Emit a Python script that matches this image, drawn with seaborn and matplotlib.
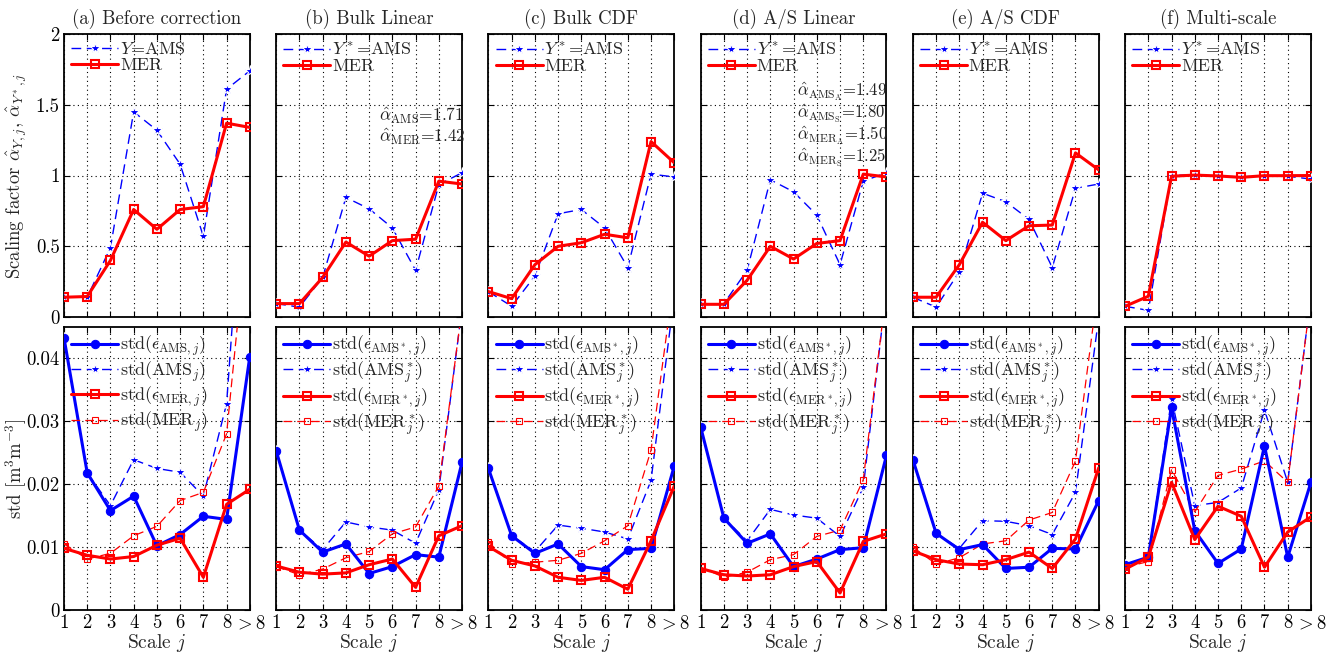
import numpy as np
import pandas as pd
import seaborn as sns
import matplotlib
matplotlib.use("Agg")
import matplotlib.pyplot as plt

# ---- data ----
scales = [1, 2, 3, 4, 5, 6, 7, 8, 9]
scale_labels = ['1', '2', '3', '4', '5', '6', '7', '8', r'$>8$']
panel_titles = ['(a) Before correction', '(b) Bulk Linear', '(c) Bulk CDF',
                '(d) A/S Linear', '(e) A/S CDF', '(f) Multi-scale']

# scaling factors (top row), one list per panel
alpha_ams = [
    [0.14, 0.14, 0.49, 1.45, 1.32, 1.08, 0.57, 1.61, 1.74],
    [0.095, 0.07, 0.28, 0.845, 0.765, 0.63, 0.33, 0.935, 1.02],
    [0.18, 0.076, 0.29, 0.73, 0.76, 0.63, 0.35, 1.01, 0.99],
    [0.09, 0.095, 0.33, 0.97, 0.885, 0.72, 0.37, 0.96, 1.02],
    [0.14, 0.07, 0.32, 0.875, 0.815, 0.69, 0.35, 0.91, 0.94],
    [0.076, 0.047, 1.0, 1.005, 0.995, 0.99, 1.0, 0.995, 0.975],
]
alpha_mer = [
    [0.14, 0.145, 0.40, 0.76, 0.62, 0.76, 0.78, 1.37, 1.34],
    [0.095, 0.095, 0.28, 0.53, 0.43, 0.54, 0.55, 0.96, 0.94],
    [0.18, 0.13, 0.37, 0.50, 0.525, 0.585, 0.56, 1.24, 1.09],
    [0.09, 0.09, 0.26, 0.50, 0.41, 0.52, 0.54, 1.01, 0.99],
    [0.14, 0.14, 0.37, 0.67, 0.54, 0.645, 0.65, 1.16, 1.04],
    [0.076, 0.147, 0.995, 1.003, 0.997, 0.987, 0.999, 0.999, 1.0],
]

# standard deviations (bottom row)
std_eps_ams = [
    [0.0433, 0.0218, 0.0158, 0.0181, 0.0102, 0.0120, 0.0149, 0.0144, 0.0403],
    [0.0253, 0.0127, 0.0092, 0.0105, 0.0058, 0.0069, 0.0088, 0.0084, 0.0235],
    [0.0225, 0.0118, 0.0090, 0.0105, 0.0069, 0.0064, 0.0096, 0.0098, 0.0229],
    [0.0291, 0.0146, 0.0106, 0.0121, 0.0069, 0.0081, 0.0096, 0.0099, 0.0246],
    [0.0239, 0.0122, 0.0096, 0.0104, 0.0066, 0.0068, 0.0098, 0.0097, 0.0174],
    [0.0072, 0.0084, 0.0322, 0.0126, 0.0074, 0.0097, 0.0261, 0.0084, 0.0203],
]
std_ams = [
    [0.0433, 0.0218, 0.0166, 0.0239, 0.0225, 0.0219, 0.0181, 0.0328, 0.084],
    [0.0253, 0.0127, 0.0096, 0.0140, 0.0132, 0.0127, 0.0106, 0.0191, 0.048],
    [0.0225, 0.0118, 0.0093, 0.0135, 0.0130, 0.0124, 0.0113, 0.0206, 0.050],
    [0.0291, 0.0146, 0.0110, 0.0160, 0.0151, 0.0146, 0.0117, 0.0195, 0.051],
    [0.0239, 0.0122, 0.0098, 0.0142, 0.0141, 0.0134, 0.0120, 0.0187, 0.0465],
    [0.0072, 0.0084, 0.0336, 0.0166, 0.0171, 0.0194, 0.0318, 0.0203, 0.050],
]
std_eps_mer = [
    [0.0098, 0.0087, 0.0081, 0.0085, 0.0103, 0.0114, 0.0052, 0.0168, 0.0192],
    [0.0070, 0.0060, 0.0057, 0.0059, 0.0072, 0.0081, 0.0036, 0.0118, 0.0134],
    [0.0101, 0.0079, 0.0070, 0.0052, 0.0047, 0.0052, 0.0033, 0.0110, 0.0197],
    [0.0066, 0.0056, 0.0054, 0.0056, 0.0069, 0.0077, 0.0027, 0.0109, 0.0121],
    [0.0094, 0.0080, 0.0073, 0.0072, 0.0080, 0.0092, 0.0066, 0.0113, 0.0226],
    [0.0065, 0.0084, 0.0203, 0.0112, 0.0165, 0.0149, 0.0068, 0.0124, 0.0148],
]
std_mer = [
    [0.0105, 0.0081, 0.0090, 0.0118, 0.0133, 0.0174, 0.0187, 0.0280, 0.065],
    [0.0069, 0.0056, 0.0065, 0.0083, 0.0093, 0.0121, 0.0132, 0.0197, 0.048],
    [0.0108, 0.0073, 0.0076, 0.0079, 0.0090, 0.0110, 0.0134, 0.0254, 0.053],
    [0.0068, 0.0052, 0.0060, 0.0080, 0.0088, 0.0117, 0.0127, 0.0207, 0.051],
    [0.0100, 0.0073, 0.0083, 0.0105, 0.0110, 0.0143, 0.0155, 0.0237, 0.052],
    [0.0068, 0.0077, 0.0223, 0.0156, 0.0214, 0.0224, 0.0237, 0.0203, 0.050],
]

alpha_text_b = [r'$\hat{\alpha}_{\mathrm{AMS}}$=1.71', r'$\hat{\alpha}_{\mathrm{MER}}$=1.42']
alpha_text_d = [r'$\hat{\alpha}_{\mathrm{AMS_A}}$=1.49', r'$\hat{\alpha}_{\mathrm{AMS_S}}$=1.80',
                r'$\hat{\alpha}_{\mathrm{MER_A}}$=1.50', r'$\hat{\alpha}_{\mathrm{MER_S}}$=1.25']


def style_axes(ax, ylim, yticks, yticklabels, first_col, bottom_row):
    ax.set_xlim(1, 9)
    ax.set_ylim(*ylim)
    ax.set_xticks(scales)
    ax.set_yticks(yticks)
    ax.grid(True, linestyle=(0, (1, 3)), color='k', linewidth=0.8)
    ax.tick_params(direction='in', top=True, right=True, length=4,
                   width=0.8, labelsize=13.5, colors='k', pad=3)
    ax.set_xticklabels(scale_labels if bottom_row else [])
    ax.set_yticklabels(yticklabels if first_col else [])
    for sp in ax.spines.values():
        sp.set_linewidth(1.3)
        sp.set_color('k')
    ax.set_xlabel('')
    ax.set_ylabel('')


def main():
    sns.set_style("ticks")
    plt.rcParams['font.family'] = 'serif'
    plt.rcParams['font.serif'] = ['cmr10', 'DejaVu Serif']
    plt.rcParams['mathtext.fontset'] = 'cm'
    plt.rcParams['axes.formatter.use_mathtext'] = True
    plt.rcParams['axes.unicode_minus'] = False

    fig, axes = plt.subplots(2, 6, figsize=(13.44, 6.54), dpi=100)
    fig.subplots_adjust(left=0.0476, right=0.9754, top=0.948, bottom=0.0673,
                        wspace=0.142, hspace=0.035)

    for k in range(6):
        star = r'^*' if k > 0 else ''
        # ---- top: scaling factors ----
        ax = axes[0, k]
        sns.lineplot(x=scales, y=alpha_ams[k], ax=ax, color='b', marker='*',
                     markersize=8, markeredgewidth=0.8, linewidth=1.0,
                     linestyle=(0, (7, 4)),
                     label=r'$Y%s$=AMS' % star, zorder=3)
        sns.lineplot(x=scales, y=alpha_mer[k], ax=ax, color='r', marker='s',
                     markersize=6, markerfacecolor='none', markeredgecolor='r',
                     markeredgewidth=1.5, linewidth=2.2, label='MER', zorder=4)
        style_axes(ax, (0, 2), [0, 0.5, 1, 1.5, 2],
                   ['0', '0.5', '1', '1.5', '2'], k == 0, False)
        ax.legend(loc='upper left', frameon=False, fontsize=13,
                  handlelength=2.6, labelspacing=0.0, borderaxespad=0.2,
                  handletextpad=0.1, borderpad=0.2)
        ax.set_title(panel_titles[k], fontsize=13.5, pad=7)

        # ---- bottom: standard deviations ----
        ax = axes[1, k]
        eps_sub = r'\mathrm{AMS}%s,j' % star
        eps_sub_m = r'\mathrm{MER}%s,j' % star
        sns.lineplot(x=scales, y=std_eps_ams[k], ax=ax, color='b', marker='o',
                     markersize=6, markeredgecolor='b', linewidth=2.2,
                     label=r'std($\epsilon_{%s}$)' % eps_sub, zorder=4)
        sns.lineplot(x=scales, y=std_ams[k], ax=ax, color='b', marker='*',
                     markersize=8, markeredgewidth=0.8, linewidth=1.0,
                     linestyle=(0, (7, 4)),
                     label=r'std(AMS$%s_j$)' % star, zorder=3)
        sns.lineplot(x=scales, y=std_eps_mer[k], ax=ax, color='r', marker='s',
                     markersize=6, markerfacecolor='none', markeredgecolor='r',
                     markeredgewidth=1.5, linewidth=2.2,
                     label=r'std($\epsilon_{%s}$)' % eps_sub_m, zorder=4)
        sns.lineplot(x=scales, y=std_mer[k], ax=ax, color='r', marker='s',
                     markersize=5, markerfacecolor='none', markeredgecolor='r',
                     markeredgewidth=0.8, linewidth=0.9, linestyle=(0, (7, 4)),
                     label=r'std(MER$%s_j$)' % star, zorder=3)
        style_axes(ax, (0, 0.045), [0, 0.01, 0.02, 0.03, 0.04],
                   ['0', '0.01', '0.02', '0.03', '0.04'], k == 0, True)
        ax.legend(loc='upper left', frameon=False, fontsize=13,
                  handlelength=2.6, labelspacing=0.05, borderaxespad=0.2,
                  handletextpad=0.1, borderpad=0.2)
        ax.set_xlabel(r'Scale $j$', fontsize=14, labelpad=0)

    axes[0, 0].set_ylabel(r'Scaling factor $\hat{\alpha}_{Y,j}$, $\hat{\alpha}_{Y^*,j}$',
                          fontsize=13.5)
    axes[1, 0].set_ylabel(r'std [m$^3$m$^{-3}$]', fontsize=13.5)
    axes[0, 0].yaxis.set_label_coords(-0.19, 0.5)
    axes[1, 0].yaxis.set_label_coords(-0.19, 0.5)

    # fitted bulk factors, one multi-line text block per panel
    axes[0, 1].text(5.43, 1.35, '\n'.join(alpha_text_b), fontsize=12.5,
                    va='center', ha='left', color='#222222', linespacing=1.0)
    axes[0, 3].text(5.13, 1.36, '\n'.join(alpha_text_d), fontsize=12,
                    va='center', ha='left', color='#222222', linespacing=0.95)

    fig.savefig('out.png', dpi=100)


if __name__ == "__main__":
    main()
